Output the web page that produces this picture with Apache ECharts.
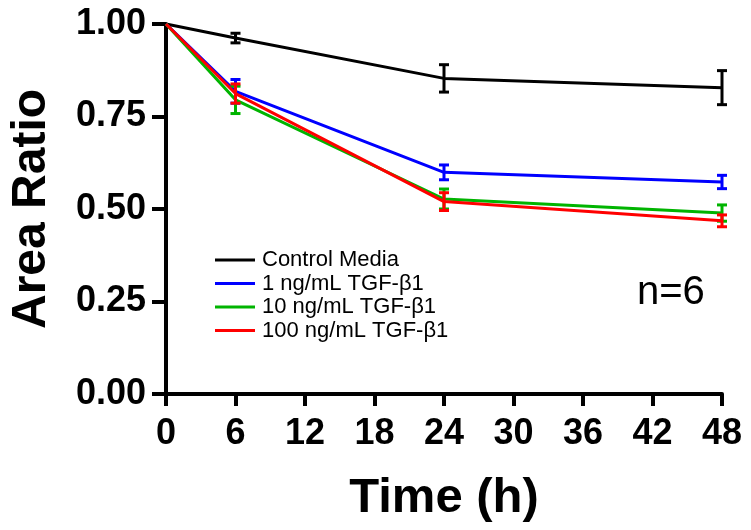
<!DOCTYPE html>
<html>
<head>
<meta charset="utf-8">
<script src="https://cdn.jsdelivr.net/npm/echarts@6/dist/echarts.min.js"></script>
<style>
html,body{margin:0;padding:0;background:#fff;}
#chart{width:751px;height:530px;}
</style>
</head>
<body>
<div id="chart"></div>
<script>
// ---- data ----
const timePoints = [0, 6, 24, 48];
const seriesNames = ['Control Media', '1 ng/mL TGF-\u03B21', '10 ng/mL TGF-\u03B21', '100 ng/mL TGF-\u03B21'];
const controlMean = [1.00, 0.962, 0.853, 0.828];
const controlErr  = [0, 0.013, 0.037, 0.046];
const tgf1Mean    = [1.00, 0.818, 0.599, 0.573];
const tgf1Err     = [0, 0.032, 0.020, 0.018];
const tgf10Mean   = [1.00, 0.795, 0.527, 0.489];
const tgf10Err    = [0, 0.037, 0.027, 0.022];
const tgf100Mean  = [1.00, 0.812, 0.520, 0.468];
const tgf100Err   = [0, 0.026, 0.024, 0.016];
const xTicks = [0, 6, 12, 18, 24, 30, 36, 42, 48];
const yTicks = [0, 0.25, 0.5, 0.75, 1.0];

const colors = ['#000000', '#0000ff', '#00b400', '#ff0000'];
const means = [controlMean, tgf1Mean, tgf10Mean, tgf100Mean];
const errs = [controlErr, tgf1Err, tgf10Err, tgf100Err];
const FONT = 'Liberation Sans, Arial, sans-serif';

const series = [];
means.forEach((m, k) => {
  series.push({
    name: seriesNames[k],
    type: 'line',
    data: timePoints.map((t, i) => [t, m[i]]),
    symbol: 'none',
    lineStyle: { color: colors[k], width: 3 },
    itemStyle: { color: colors[k] },
    z: 2 + k * 2
  });
  series.push({
    type: 'custom',
    z: 3 + k * 2,
    data: timePoints.map((t, i) => [t, m[i], errs[k][i]]),
    encode: { x: 0, y: 1 },
    renderItem: function (params, api) {
      const x = api.value(0), y = api.value(1), e = api.value(2);
      if (!e) return null;
      const top = api.coord([x, y + e]);
      const bot = api.coord([x, y - e]);
      const hw = 5;
      const st = { stroke: colors[k], lineWidth: 3 };
      return {
        type: 'group',
        children: [
          { type: 'line', shape: { x1: top[0], y1: top[1], x2: bot[0], y2: bot[1] }, style: st },
          { type: 'line', shape: { x1: top[0] - hw, y1: top[1], x2: top[0] + hw, y2: top[1] }, style: st },
          { type: 'line', shape: { x1: bot[0] - hw, y1: bot[1], x2: bot[0] + hw, y2: bot[1] }, style: st }
        ]
      };
    }
  });
});

const chart = echarts.init(document.getElementById('chart'));
chart.setOption({
  animation: false,
  backgroundColor: '#ffffff',
  grid: { left: 163, right: 29, top: 24, bottom: 136, containLabel: false },
  legend: {
    data: seriesNames,
    orient: 'vertical',
    left: 210,
    top: 244,
    icon: 'rect',
    itemWidth: 40,
    itemHeight: 3,
    itemGap: 1.5,
    textStyle: { fontFamily: FONT, fontSize: 22, color: '#000', lineHeight: 22, padding: [0, 0, 0, 2] }
  },
  xAxis: {
    type: 'value',
    min: 0, max: 48, interval: 6,
    name: 'Time (h)',
    nameLocation: 'middle',
    nameGap: 80,
    nameTextStyle: { fontFamily: FONT, fontSize: 49, fontWeight: 'bold', color: '#000' },
    axisLine: { show: true, lineStyle: { color: '#000', width: 4 } },
    axisTick: { show: true, length: 12, lineStyle: { color: '#000', width: 4 } },
    axisLabel: {
      fontFamily: FONT, fontSize: 36, fontWeight: 'bold', color: '#000', margin: 22,
      formatter: v => xTicks.includes(v) ? String(v) : ''
    },
    splitLine: { show: false }
  },
  yAxis: {
    type: 'value',
    min: 0, max: 1, interval: 0.25,
    name: 'Area Ratio',
    nameLocation: 'middle',
    nameGap: 110,
    nameTextStyle: { fontFamily: FONT, fontSize: 48, fontWeight: 'bold', color: '#000' },
    axisLine: { show: true, lineStyle: { color: '#000', width: 4 } },
    axisTick: { show: true, length: 14, lineStyle: { color: '#000', width: 4 } },
    axisLabel: {
      fontFamily: FONT, fontSize: 36, fontWeight: 'bold', color: '#000', margin: 20,
      formatter: v => yTicks.includes(v) ? v.toFixed(2) : ''
    },
    splitLine: { show: false }
  },
  graphic: [{
    type: 'text',
    left: 637, top: 273,
    style: { text: 'n=6', font: '40px ' + FONT, fill: '#000' }
  }],
  series: series
});
</script>
</body>
</html>
